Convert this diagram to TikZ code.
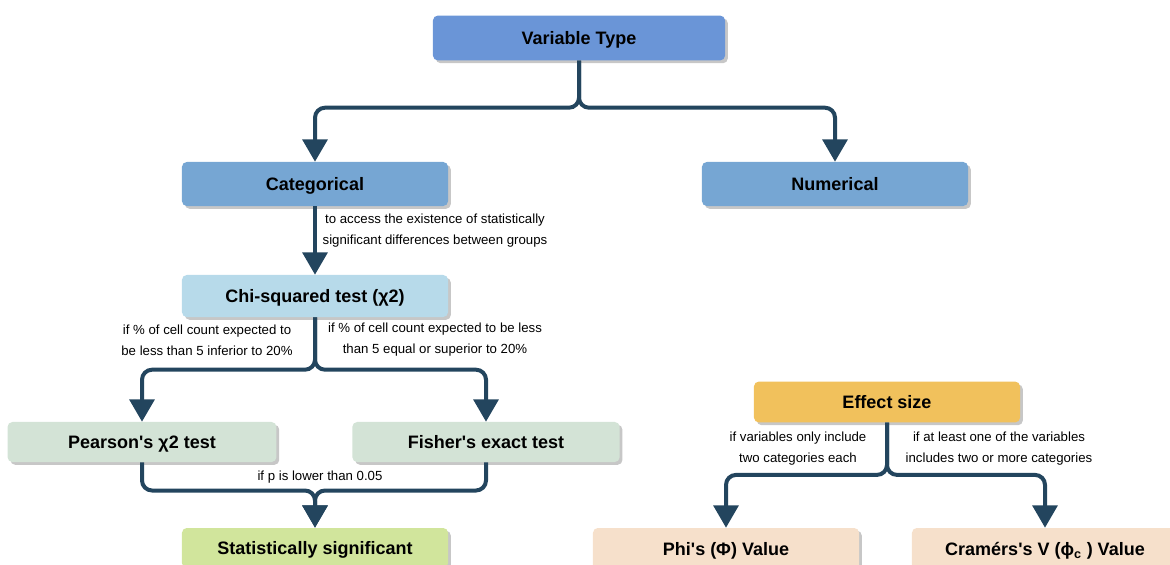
\documentclass[tikz,border=0pt]{standalone}
\usepackage{fontspec}
\setmainfont{Liberation Sans}
\usetikzlibrary{arrows.meta,shadows}
\definecolor{linkblue}{HTML}{23455E}
\definecolor{typeblue}{HTML}{6A95D7}
\definecolor{catblue}{HTML}{76A6D3}
\definecolor{chiblue}{HTML}{B7DAEA}
\definecolor{testgreen}{HTML}{D3E3D6}
\definecolor{siggreen}{HTML}{D1E59C}
\definecolor{effyellow}{HTML}{F1C15C}
\definecolor{valpeach}{HTML}{F6E0CB}
\tikzset{
  box/.style={rounded corners=0.12cm, minimum height=1.05cm, minimum width=6.65cm,
    font=\fontsize{12.8}{15}\selectfont\bfseries, text height=9.3pt, text depth=0pt,
    drop shadow={shadow xshift=0.07cm, shadow yshift=-0.07cm, fill=black!22, opacity=1}},
  link/.style={draw=linkblue, line width=0.1cm, rounded corners=0.25cm,
    -{Triangle[width=0.62cm,length=0.56cm]}},
  note/.style={font=\fontsize{9.4}{15}\selectfont, align=center}
}
\begin{document}
\begin{tikzpicture}[x=0.025cm,y=-0.025cm]
\useasboundingbox (0,0) rectangle (1170,565);

% boxes
\node[box, fill=typeblue, minimum width=7.3cm, minimum height=1.12cm] (vt) at (579,38) {Variable Type};
\node[box, fill=catblue, minimum height=1.1cm] (cat) at (315,184) {Categorical};
\node[box, fill=catblue, minimum height=1.1cm] (num) at (835,184) {Numerical};
\node[box, fill=chiblue] (chi) at (315,296) {Chi-squared test (χ2)};
\node[box, fill=testgreen, minimum width=6.72cm, minimum height=1cm] (pear) at (142,442) {Pearson\textquotesingle s χ2 test};
\node[box, fill=testgreen, minimum width=6.68cm, minimum height=1cm] (fish) at (486,442) {Fisher\textquotesingle s exact test};
\node[box, fill=siggreen, minimum height=1cm] (sig) at (315,548) {Statistically significant};
\node[box, fill=effyellow, minimum height=1.02cm] (eff) at (887,402) {Effect size};
\node[box, fill=valpeach] (phi) at (726,549) {Phi\textquotesingle s (Φ) Value};
\node[box, fill=valpeach] (cram) at (1045,549) {Cramérs\textquotesingle s V (ϕ\textsubscript{c} ) Value};

% connectors
\foreach \t in {cat,num}
{
    \draw[link] (vt.south) |- ([yshift=1.35cm]\t.north) -- (\t.north);
}
\draw[link, rounded corners=0] (cat.south) -- (chi.north);
\foreach \t in {pear,fish}
{
    \draw[link] (chi.south) |- ([yshift=1.3cm]\t.north) -- (\t.north);
}
\foreach \s in {pear,fish}
{
    \draw[link] (\s.south) |- ([yshift=0.93cm]sig.north) -- (sig.north);
}
\foreach \t in {phi,cram}
{
    \draw[link] (eff.south) |- ([yshift=1.32cm]\t.north) -- (\t.north);
}

% labels
\node[note] (catnote) at (435,231) {to access the existence of statistically\\significant differences between groups};
\node[note] (chileft) at (207,340) {if \% of cell count expected to\\be less than 5 inferior to 20\%};
\node[note] (chiright) at (435,340) {if \% of cell count expected to be less\\than 5 equal or superior to 20\%};
\node[note] (pnote) at (320,477) {if p is lower than 0.05};
\node[note] (effleft) at (798,449) {if variables only include\\two categories each};
\node[note] (effright) at (999,449) {if at least one of the variables\\includes two or more categories};
\end{tikzpicture}
\end{document}
